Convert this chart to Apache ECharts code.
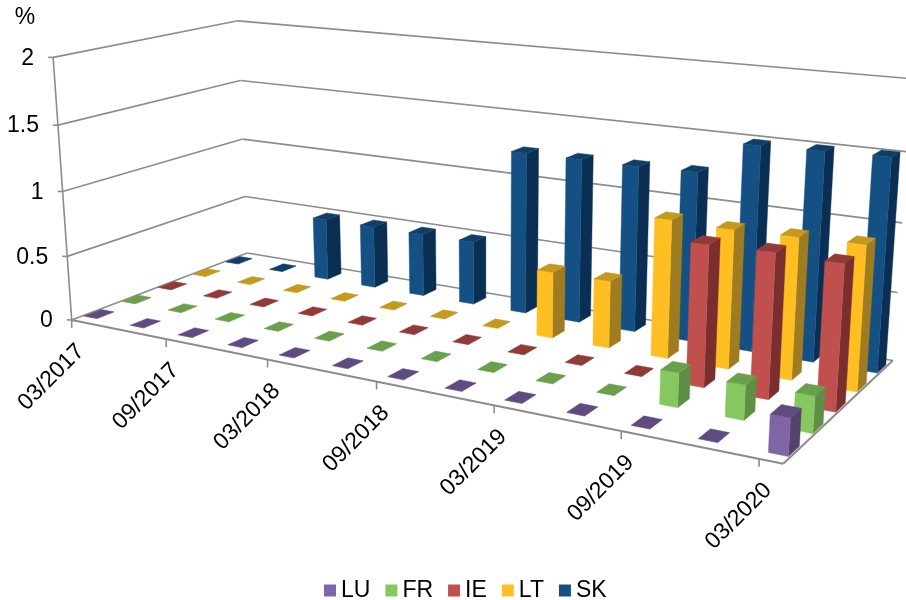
<!DOCTYPE html>
<html><head><meta charset="utf-8">
<style>html,body{margin:0;padding:0;background:#fff}#c{width:906px;height:600px}</style>
<script src="https://cdn.jsdelivr.net/npm/echarts@6/dist/echarts.min.js"></script>
</head><body><div id="c"></div>
<script>
const categories = ['03/2017','06/2017','09/2017','12/2017','03/2018','06/2018','09/2018','12/2018','03/2019','06/2019','09/2019','12/2019','03/2020'];
const LU = [0,0,0,0,0,0,0,0,0,0,0,0,0.25];
const FR = [0,0,0,0,0,0,0,0,0,0,0.24,0.24,0.25];
const IE = [0,0,0,0,0,0,0,0,0,0,1.0,1.01,1.0];
const LT = [0,0,0,0,0,0,0,0.5,0.5,1.01,1.0,1.01,1.02];
const SK = [0,0,0.5,0.5,0.5,0.5,1.25,1.25,1.25,1.26,1.5,1.51,1.52];
const yTicks = [0,0.5,1,1.5,2];
const yLabels = ['0','0.5','1','1.5','2'];
const xTickEvery = 2;
const unit = '%';

// Picture plane calibration of the 3D box: [time 0-1, depth 0-1, height 0-1, px, py]
const BOX = [[0,0,0,72,320],[1,0,0,783,464],[0,1,0,247,253],[1,1,0,893,360],[0,0,1,53,57],[0,1,1,238,21],[1,1,1,912,79]];
const U_SPAN = 0.973, U_BAR_SHIFT = 0.0135;
const BAR_W = 0.28, BAR_D = 0.44;
const GRID = '#8c8c8c';
const FONT = '23px "Liberation Sans", Arial, sans-serif';

function solve(A,b){const n=b.length;for(let i=0;i<n;i++){let p=i;for(let r=i+1;r<n;r++)if(Math.abs(A[r][i])>Math.abs(A[p][i]))p=r;[A[i],A[p]]=[A[p],A[i]];[b[i],b[p]]=[b[p],b[i]];for(let r=i+1;r<n;r++){const f=A[r][i]/A[i][i];for(let c=i;c<n;c++)A[r][c]-=f*A[i][c];b[r]-=f*b[i];}}const x=new Array(n);for(let i=n-1;i>=0;i--){let s=b[i];for(let c=i+1;c<n;c++)s-=A[i][c]*x[c];x[i]=s/A[i][i];}return x;}
function fit(){const R=[],Y=[];BOX.forEach(([u,v,w,x,y])=>{R.push([u,v,w,1,0,0,0,0,-x*u,-x*v,-x*w]);Y.push(x);R.push([0,0,0,0,u,v,w,1,-y*u,-y*v,-y*w]);Y.push(y);});const n=11,N=[],B=[];for(let i=0;i<n;i++){N.push(new Array(n).fill(0));B.push(0);for(let j=0;j<n;j++)R.forEach(r=>N[i][j]+=r[i]*r[j]);R.forEach((r,k)=>B[i]+=r[i]*Y[k]);}return solve(N,B);}
const H = fit();
function P(u,v,w){const d=H[8]*u+H[9]*v+H[10]*w+1;return [(H[0]*u+H[1]*v+H[2]*w+H[3])/d,(H[4]*u+H[5]*v+H[6]*w+H[7])/d];}

// flat (hidden) axes give the normalised time / height; the box projection maps them to the page
function norm(params,api,i,val){const cs=params.coordSys,pt=api.coord([i,val]);return [U_SPAN*(pt[0]-cs.x)/cs.width,(cs.y+cs.height-pt[1])/cs.height];}
function bandU(params,api){return U_SPAN*(api.coord([1,0])[0]-api.coord([0,0])[0])/params.coordSys.width;}

function barSeries(name,values,k,col){
  return {name,type:'custom',coordinateSystem:'cartesian2d',encode:{x:0,y:1},silent:true,clip:false,
    itemStyle:{color:col[0]},
    data:values.map((y,i)=>[i,y]),
    renderItem(params,api){
      const i=api.value(0),val=api.value(1),[ut,w]=norm(params,api,i,val),uc=ut+U_BAR_SHIFT,du=bandU(params,api)*BAR_W/2,vc=(k+.5)/5,dv=BAR_D/5/2;
      const u0=uc-du,u1=uc+du,v0=vc-dv,v1=vc+dv;
      const face=(pts,fill)=>({type:'polygon',shape:{points:pts},style:{fill,stroke:fill,lineWidth:0.4}});
      return {type:'group',children:[
        face([P(u1,v0,0),P(u1,v1,0),P(u1,v1,w),P(u1,v0,w)],col[1]),
        face([P(u0,v0,0),P(u1,v0,0),P(u1,v0,w),P(u0,v0,w)],col[0]),
        face([P(u0,v0,w),P(u1,v0,w),P(u1,v1,w),P(u0,v1,w)],col[2])
      ]};
    }};
}
const line=(a,b,lw)=>({type:'line',shape:{x1:a[0],y1:a[1],x2:b[0],y2:b[1]},style:{stroke:GRID,lineWidth:lw||1.6}});

const yFrame={type:'custom',coordinateSystem:'cartesian2d',silent:true,clip:false,encode:{x:0,y:1},
  data:yTicks.map((t,i)=>[0,t,yLabels[i]]),
  renderItem(params,api){
    const val=api.value(1),[,w]=norm(params,api,0,val);
    const a=P(0,0,w),b=P(0,1,w),c=P(1,1,w);
    const kids=[line(a,b),line(b,c),line(a,[a[0]-5,a[1]])];
    kids.push({type:'text',x:a[0]-19,y:a[1]+1,style:{text:yLabels[yTicks.indexOf(val)],font:FONT,fill:'#000',align:'right',verticalAlign:'middle'}});
    if(params.dataIndex===0){kids.push(line(a,P(1,0,0),2),line(P(1,0,0),P(1,1,0),2),line(a,P(0,0,1)));}
    if(params.dataIndex===yTicks.length-1){kids.push({type:'text',x:25,y:18,style:{text:unit,font:FONT,fill:'#000',align:'center',verticalAlign:'middle'}});}
    return {type:'group',children:kids};
  }};
const xFrame={type:'custom',coordinateSystem:'cartesian2d',silent:true,clip:false,encode:{x:0,y:1},
  data:categories.map((c,i)=>[i,0]).filter(d=>d[0]%xTickEvery===0),
  renderItem(params,api){
    const i=api.value(0),[u]=norm(params,api,i,0),a=P(u,0,0);
    return {type:'group',children:[
      line(a,[a[0],a[1]+8]),
      {type:'text',x:a[0]+9,y:a[1]+28,rotation:Math.PI/4,style:{text:categories[i],font:FONT,fill:'#000',align:'right',verticalAlign:'middle'}}
    ]};
  }};

const chart=echarts.init(document.getElementById('c'),null,{renderer:'canvas'});
chart.setOption({
  animation:false,backgroundColor:'#fff',
  grid:{left:0,right:0,top:0,bottom:0},
  xAxis:{type:'category',data:categories,show:false,boundaryGap:false},
  yAxis:{type:'value',min:0,max:2,show:false},
  legend:{data:['LU','FR','IE','LT','SK'],icon:'rect',itemWidth:12,itemHeight:12,itemGap:15,top:574,left:319,selectedMode:false,
    textStyle:{fontFamily:'"Liberation Sans", Arial, sans-serif',fontSize:23,color:'#000'}},
  series:[yFrame,xFrame,
    barSeries('SK',SK,4,['#145083','#0B2F53','#0F3F68']),
    barSeries('LT',LT,3,['#FFBE22','#A07C20','#C49A1E']),
    barSeries('IE',IE,2,['#C0504D','#7A2E2E','#913A38']),
    barSeries('FR',FR,1,['#86C75F','#5F8F45','#6AA04B']),
    barSeries('LU',LU,0,['#7F65A6','#55436F','#5F4B80'])
  ]
});
</script></body></html>
